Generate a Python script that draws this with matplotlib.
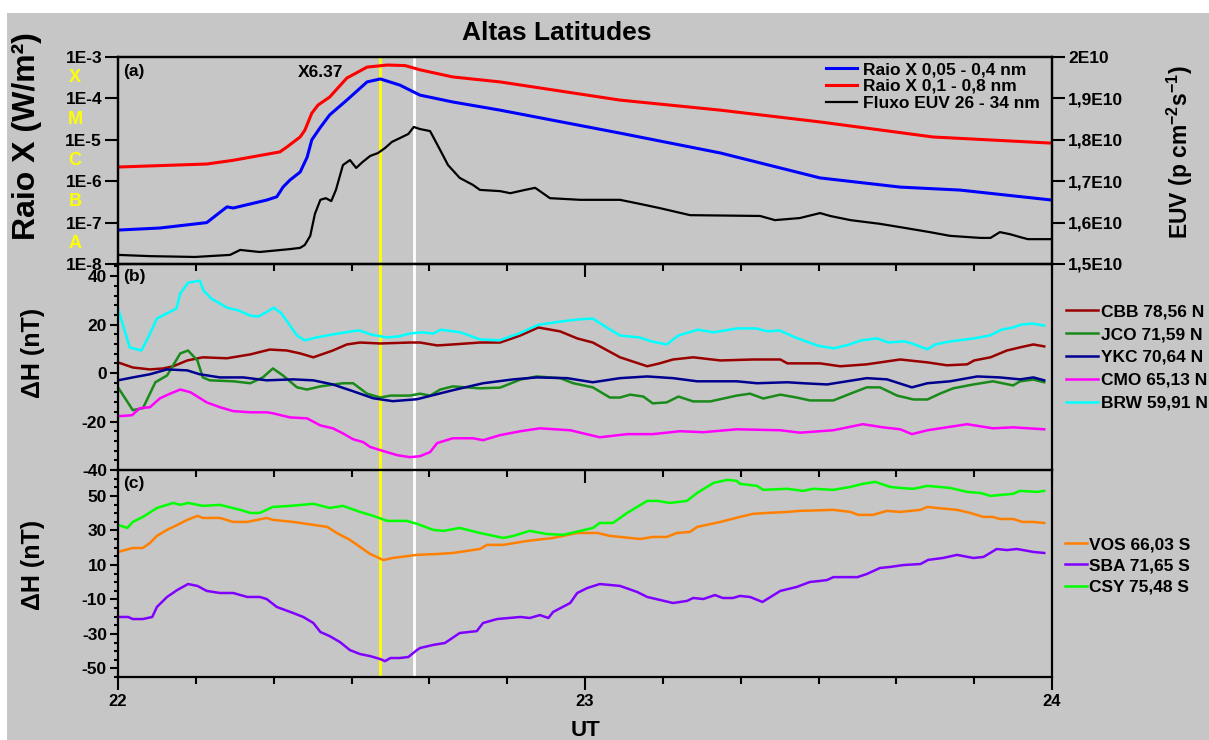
import numpy as np
import matplotlib
matplotlib.use("Agg")
import matplotlib.pyplot as plt
from matplotlib.patches import Rectangle
from matplotlib.ticker import FixedLocator, MultipleLocator, NullLocator, FuncFormatter, AutoMinorLocator

plt.rcParams['font.family'] = ['Liberation Sans', 'DejaVu Sans']
plt.rcParams['font.weight'] = 'bold'
plt.rcParams['mathtext.fontset'] = 'custom'
plt.rcParams['mathtext.rm'] = 'Liberation Sans:bold'
plt.rcParams['mathtext.it'] = 'Liberation Sans:bold'
plt.rcParams['mathtext.bf'] = 'Liberation Sans:bold'
plt.rcParams['axes.unicode_minus'] = False

# ---- data (time in minutes after 22:00 UT) ----
xr_long_t = [0, 11.4, 14.8, 20.8, 21.7, 23.4, 24, 24.9, 25.7, 27.2, 29.4, 32, 34.6, 36.9, 38.8,
             43, 49.1, 64.5, 77.4, 90.2, 104.7, 120]
xr_long = [2.2e-6, 2.6e-6, 3.2e-6, 5.1e-6, 6.7e-6, 1.17e-5, 1.7e-5, 4.4e-5, 6.9e-5, 1.08e-4,
           3.1e-4, 5.7e-4, 6.4e-4, 6.2e-4, 4.9e-4, 3.3e-4, 2.5e-4, 9.1e-5, 5.2e-5, 2.7e-5,
           1.17e-5, 8.3e-6]

xr_short_t = [0, 5.4, 11.4, 14.0, 14.8, 19.1, 20.4, 21.2, 22.1, 23.4, 24.3, 24.9, 26, 27.2,
              29.4, 32, 33.7, 36.2, 38.8, 43, 49.1, 64.5, 77.4, 90.2, 100.5, 108.2, 120]
xr_short = [6.6e-8, 7.4e-8, 1.0e-7, 2.4e-7, 2.25e-7, 3.5e-7, 4.2e-7, 7.2e-7, 1.07e-6, 1.66e-6,
            3.8e-6, 1.0e-5, 2.0e-5, 4.0e-5, 9.1e-5, 2.5e-4, 2.95e-4, 2.1e-4, 1.2e-4, 8.2e-5,
            5.2e-5, 1.45e-5, 4.8e-6, 1.2e-6, 7.2e-7, 6.1e-7, 3.5e-7]

euv_t = [0, 4.1, 9.9, 14.4, 15.7, 18.2, 22.1, 23.4, 24, 24.7, 25.3, 26, 26.7, 27.4, 28, 28.9,
         29.8, 30.6, 31.4, 32.4, 33.4, 34.3, 35.2, 36.2, 37.3, 38, 38.8, 40.1, 41.4, 42.4, 43.9,
         45.6, 46.5, 49.1, 50.4, 52.3, 53.6, 55.5, 59.4, 64.5, 67.1, 69.6, 73.5, 82.5, 84.4,
         87.6, 90.2, 91.5, 94.1, 97.9, 100.5, 104.3, 106.9, 110.8, 112.1, 113.3, 114.6, 115.9,
         116.9, 120]
euv = [1.522, 1.519, 1.517, 1.522, 1.534, 1.529, 1.536, 1.539, 1.546, 1.568, 1.621, 1.655,
       1.659, 1.652, 1.679, 1.739, 1.751, 1.732, 1.746, 1.761, 1.768, 1.780, 1.795, 1.804,
       1.814, 1.831, 1.826, 1.821, 1.775, 1.739, 1.708, 1.691, 1.679, 1.676, 1.671, 1.679,
       1.684, 1.659, 1.655, 1.655, 1.645, 1.635, 1.618, 1.616, 1.606, 1.611, 1.623, 1.616,
       1.606, 1.597, 1.589, 1.577, 1.568, 1.563, 1.563, 1.577, 1.572, 1.565, 1.560, 1.560]

cbb_t = [0, 1.9, 4.1, 5.8, 7.1, 8.9, 10.9, 14, 17, 19.5, 21.7, 23.4, 25.1, 27.6, 29.4, 31.1,
         33.7, 37.5, 38.8, 41, 43, 46.5, 49.1, 51.7, 54, 56.8, 59, 61, 64.5, 68, 69.6, 71.3,
         73.9, 77.4, 81.6, 85.1, 86, 90.2, 92.8, 96.2, 100.5, 104, 106.5, 109.1, 110, 112.1,
         114.2, 115.9, 117.6, 119]
cbb = [4.4, 2.3, 1.5, 1.9, 2.8, 5.2, 6.5, 6.1, 7.7, 9.7, 9.3, 8.1, 6.5, 9.3, 11.8, 12.6,
       12.2, 12.6, 12.6, 11.4, 11.8, 12.6, 12.6, 15.5, 18.8, 17.2, 14.3, 12.6, 6.5, 2.8, 4.0,
       5.6, 6.5, 5.2, 5.6, 5.6, 4.0, 4.0, 2.8, 3.6, 5.6, 4.4, 3.2, 3.6, 5.2, 6.5, 9.3, 10.6,
       11.8, 11.0]

jco_t = [0, 1.9, 3.2, 4.8, 6.3, 8, 9, 10.2, 10.9, 11.8, 14.8, 17, 18.6, 19.9, 21.2, 23, 24.3,
         26, 28.9, 30.2, 32, 33.7, 35, 37.5, 38.8, 40.1, 41.4, 43, 46.5, 49.1, 51.7, 53.8,
         56.8, 58.5, 61, 63.2, 64.5, 65.8, 67.5, 68.7, 70.5, 72, 73.9, 76.1, 79.5, 81.2, 82.9,
         85.1, 87.2, 88.9, 91.9, 94.1, 96.2, 97.9, 100.1, 102.2, 104, 105.6, 107.3, 109.9,
         112.4, 115, 115.9, 117.6, 119]
jco = [-5.9, -15.3, -14.5, -3.8, -1.0, 8.1, 9.3, 5.2, -1.8, -3.0, -3.4, -4.2, -1.8, 1.9,
       -1.0, -5.9, -6.8, -5.5, -4.2, -4.2, -8.5, -10.1, -9.3, -9.3, -8.5, -9.3, -6.8, -5.5,
       -6.3, -6.0, -2.7, -1.4, -2.1, -4.2, -5.9, -10.1, -10.1, -8.9, -9.7, -12.5, -12.1, -9.7,
       -11.7, -11.7, -9.3, -8.5, -10.5, -8.9, -10.1, -11.3, -11.3, -8.5, -5.9, -5.9, -9.3,
       -10.9, -10.9, -8.5, -6.3, -4.7, -3.4, -5.1, -3.4, -2.7, -3.8]

ykc_t = [0, 1.9, 4.1, 6.3, 8.9, 10.5, 13.1, 16.1, 19.1, 22.5, 25.1, 27.6, 30.2, 32.8, 35.3,
         38.4, 43, 46.9, 50.8, 53.8, 57.7, 61, 64.5, 68, 71.3, 74.4, 79.5, 82.1, 86, 88,
         91.1, 96.2, 98.8, 102, 104, 106.9, 110.4, 113.3, 115.9, 117.6, 119]
ykc = [-3.0, -1.8, -0.5, 1.5, 1.1, -0.5, -1.8, -1.8, -3.0, -2.6, -3.0, -4.7, -7.5, -10.4,
       -11.6, -10.8, -7.1, -4.2, -2.6, -1.8, -2.1, -3.8, -2.1, -1.4, -2.1, -3.4, -3.4, -4.2,
       -3.8, -4.2, -4.7, -2.1, -2.6, -5.9, -4.2, -3.4, -1.4, -1.8, -2.6, -1.8, -3.0]

cmo_t = [0, 1.8, 2.8, 4.1, 5.4, 6.7, 8, 9.3, 11.4, 13.1, 14.8, 17, 19.1, 19.9, 22.1, 24.3,
         26, 27.6, 28.9, 30.2, 31.5, 32.4, 34.1, 35.9, 37.5, 38.8, 40.1, 41, 43, 45.6, 46.9,
         49.1, 51.7, 54.2, 58.1, 61.9, 65.4, 68.7, 72.2, 75.2, 79.5, 85.1, 87.6, 91.9, 95.7,
         98.3, 100.5, 102, 104, 109.1, 112.4, 115, 119]
cmo = [-17.8, -17.4, -14.5, -14.1, -10.4, -8.5, -6.8, -7.9, -12.1, -14.1, -15.7, -16.2,
       -16.2, -16.6, -18.3, -18.7, -21.6, -22.8, -24.9, -27.3, -28.5, -30.5, -32.2, -33.9,
       -34.7, -34.3, -32.6, -28.9, -26.9, -26.9, -27.7, -25.6, -24.0, -22.8, -23.6, -26.5,
       -25.2, -25.2, -24.0, -24.4, -23.2, -23.6, -24.6, -23.6, -21.1, -22.4, -23.2, -25.2,
       -23.6, -21.1, -22.8, -22.4, -23.2]

brw_t = [0, 1.5, 3, 4, 5, 6.5, 7.5, 8, 9, 10.5, 11, 12, 14, 15.5, 17, 18, 19, 20, 21, 23,
         24, 25.5, 27.5, 30, 31, 32.5, 34.5, 36, 37.5, 39, 40.5, 41.5, 44, 46.5, 49, 51.5, 54,
         57, 59, 61, 63, 64.5, 67, 68.5, 70.5, 72, 74.5, 76.5, 79.5, 82, 83.5, 85, 87, 90, 92,
         94, 95.5, 97.5, 99, 101, 102, 104, 105, 107, 110, 112, 113.5, 115, 116, 117.5, 119]
brw = [26.6, 10.6, 9.3, 15.5, 22.5, 25.0, 26.6, 32.8, 37.3, 38.1, 34.0, 30.7, 27.0, 25.8,
       23.7, 23.3, 25.0, 27.0, 24.6, 15.5, 13.5, 14.7, 15.9, 17.2, 17.6, 15.9, 14.7, 15.1,
       16.3, 16.8, 16.3, 17.9, 16.8, 13.9, 13.5, 16.3, 19.9, 21.3, 22.1, 22.5, 18.4, 15.5,
       14.7, 13.1, 11.8, 15.5, 17.9, 16.8, 18.4, 18.4, 17.2, 17.6, 14.7, 11.2, 10.2, 11.8,
       13.5, 14.3, 12.6, 13.1, 12.2, 9.8, 11.8, 13.1, 14.3, 15.5, 17.9, 18.8, 20.0, 20.4, 19.6]

vos_t = [0, 1.9, 3.2, 4.1, 5, 6.3, 7.1, 8.9, 10.2, 10.9, 13.1, 14.8, 16.6, 19.1, 19.9, 22.5,
         25.1, 26.9, 28.1, 29.8, 31.1, 32.4, 34.1, 35.3, 38.4, 41, 43, 46.5, 47.4, 49.5, 52.6,
         55.9, 59, 61.6, 63.2, 67.1, 68.7, 70.5, 71.8, 73.5, 74.4, 77.4, 79.9, 81.6, 83.4, 86,
         87.6, 91.9, 94.1, 95.1, 97, 98.8, 100.5, 103.1, 104, 105.2, 107.8, 109.5, 111.2,
         112.4, 113.3, 115, 116.2, 117.6, 119]
vos = [17.5, 19.8, 19.8, 22.7, 26.8, 30.3, 32.0, 36.1, 38.4, 37.2, 37.2, 34.9, 34.9, 37.2,
       36.1, 34.9, 33.2, 32.0, 28.5, 24.5, 20.4, 16.3, 12.8, 14.0, 15.8, 16.3, 16.9, 19.2,
       21.6, 21.6, 23.9, 25.6, 28.5, 28.5, 26.8, 25.0, 26.2, 26.2, 28.5, 29.1, 32.0, 34.9,
       37.8, 39.6, 40.1, 40.7, 41.3, 41.9, 40.7, 39.0, 39.0, 41.3, 40.7, 41.9, 43.6, 43.0,
       41.9, 40.1, 37.8, 37.8, 36.6, 36.6, 34.9, 34.9, 34.3]

sba_t = [0, 1.3, 1.9, 3.2, 4.4, 5, 6.3, 7.6, 9, 10.2, 11.4, 13.1, 14.8, 16.6, 18.2, 19.1,
         20.4, 22.5, 23.8, 25.1, 26, 27.2, 28.5, 29.8, 31.1, 32.4, 33.7, 34.3, 35, 36.2, 37.3,
         38.4, 38.8, 40.5, 42, 43.9, 46.1, 46.9, 48.7, 51.7, 52.9, 54.2, 55.3, 55.9, 58.1, 59,
         60.3, 61.9, 64.5, 66.7, 68, 71.3, 73.1, 73.9, 75.2, 76.7, 77.7, 79, 79.9, 81.2, 82.8,
         85.1, 87.2, 88.9, 90.2, 91.1, 91.9, 95, 96.2, 97.9, 99.2, 100.9, 103.1, 104.1, 106,
         107.8, 109.9, 111.2, 112.9, 114.2, 115.5, 117.6, 119]
sba = [-20.2, -20.2, -21.4, -21.4, -20.2, -14.4, -8.6, -4.6, -1.1, -2.2, -5.1, -6.3, -6.3,
       -8.6, -8.6, -9.8, -14.4, -17.9, -20.2, -23.7, -28.9, -31.3, -34.7, -39.4, -41.7,
       -42.9, -44.6, -45.8, -44.0, -44.0, -43.4, -39.4, -38.2, -36.4, -35.3, -29.5, -28.4,
       -23.7, -21.4, -20.2, -20.8, -19.1, -20.8, -17.3, -12.1, -6.3, -3.4, -1.1, -2.2, -5.7,
       -8.6, -12.1, -10.9, -9.2, -9.8, -7.5, -9.2, -9.2, -8.0, -8.6, -11.5, -5.1, -2.8, 0.1,
       0.7, 1.2, 2.9, 2.9, 4.7, 8.2, 8.8, 9.9, 10.5, 12.9, 14.0, 15.8, 14.0, 14.6, 19.2, 18.6,
       19.2, 17.5, 16.9]

csy_t = [0, 1.2, 1.9, 3.2, 5, 7.1, 8, 9, 10.9, 13.1, 15.7, 17, 18.2, 19.9, 22.1, 25.1, 27.2,
         28.9, 31.1, 32.8, 34.6, 37.1, 38.4, 40.5, 41.8, 43.9, 46.5, 49.5, 50.8, 52.9, 55.1,
         57.2, 59.4, 61, 61.9, 63.6, 65.4, 68, 69.3, 70.9, 73.1, 74.4, 76.5, 78.3, 79.5, 79.9,
         82.1, 82.9, 86, 88, 89.3, 91.9, 94.1, 95.7, 97.3, 99.2, 100.5, 102.2, 104, 106.9,
         109.1, 110.8, 112.1, 115, 115.9, 118.1, 119]
csy = [33.2, 31.4, 34.9, 37.8, 43.0, 45.9, 44.8, 45.9, 44.2, 44.8, 41.9, 40.1, 40.1, 43.6,
       44.2, 45.4, 43.0, 44.2, 40.7, 38.4, 35.5, 35.5, 33.8, 30.3, 29.7, 31.4, 28.5, 25.6,
       26.8, 29.7, 27.9, 27.4, 29.7, 31.4, 34.3, 34.3, 40.1, 47.1, 47.1, 45.9, 47.1, 51.7,
       57.5, 59.3, 58.7, 57.0, 55.8, 53.5, 54.1, 52.9, 54.1, 53.5, 55.2, 57.0, 58.1, 55.2,
       54.6, 54.1, 55.8, 54.6, 52.3, 51.7, 50.0, 51.2, 52.9, 52.3, 52.9]

flare_peak_min = 33.65
white_line_min = 38.0

gray = '#c6c6c6'


def hours(m):
    return 22 + np.asarray(m) / 60.0


fig = plt.figure(figsize=(12.09, 7.40), dpi=100)
fig.patches.append(Rectangle((7 / 1209, 0), 1.0, 1 - 13 / 740, transform=fig.transFigure,
                             facecolor=gray, edgecolor='none', zorder=-10))

left, width = 118 / 1209, 934 / 1209
ax_a = fig.add_axes([left, 1 - 264 / 740, width, 207 / 740])
ax_b = fig.add_axes([left, 1 - 470 / 740, width, 206 / 740])
ax_c = fig.add_axes([left, 1 - 677 / 740, width, 207 / 740])

for ax in (ax_a, ax_b, ax_c):
    ax.set_facecolor('none')
    ax.set_xlim(22, 24)
    ax.xaxis.set_major_locator(MultipleLocator(1))
    ax.xaxis.set_minor_locator(MultipleLocator(1 / 6))
    ax.xaxis.set_major_formatter(FuncFormatter(lambda v, _: '%d' % round(v)))
    ax.tick_params(axis='x', which='major', direction='out', length=9, width=1.5,
                   labelsize=12, pad=3)
    ax.tick_params(axis='x', which='minor', direction='out', length=5, width=1.5)
    for s in ax.spines.values():
        s.set_linewidth(1.6)
    ax.axvline(hours(flare_peak_min), color='#ffff00', lw=2, zorder=1)
    ax.axvline(hours(white_line_min), color='white', lw=2, zorder=1)

ax_a.tick_params(axis='x', labelbottom=False)
ax_b.tick_params(axis='x', labelbottom=False)

# ---- panel (a) ----
ax_a.set_yscale('log')
ax_a.set_ylim(1e-8, 1e-3)
ax_a.yaxis.set_major_locator(FixedLocator([1e-8, 1e-7, 1e-6, 1e-5, 1e-4, 1e-3]))
ax_a.yaxis.set_minor_locator(NullLocator())
ax_a.yaxis.set_major_formatter(FuncFormatter(lambda v, _: '1E%d' % round(np.log10(v))))
ax_a.tick_params(axis='y', direction='out', length=9.5, width=1.5, labelsize=12.5, pad=2)
l1, = ax_a.plot(hours(xr_short_t), xr_short, color='#0000ff', lw=2.2, label='Raio X 0,05 - 0,4 nm')
l2, = ax_a.plot(hours(xr_long_t), xr_long, color='#ff0000', lw=2.2, label='Raio X 0,1 - 0,8 nm')
ax_a.set_ylabel('Raio X (W/m²)', fontsize=23, fontweight='bold')
ax_a.yaxis.set_label_coords(-0.081, 0.62)

for letter, lo in zip(['A', 'B', 'C', 'M', 'X'], [-8, -7, -6, -5, -4]):
    ax_a.text(-0.046, 10 ** (lo + 0.5), letter, color='#ffff00', fontsize=13,
              fontweight='bold', ha='center', va='center',
              transform=ax_a.get_yaxis_transform())

ax_e = ax_a.twinx()
ax_e.set_facecolor('none')
ax_e.set_ylim(1.5e10, 2.0e10)
ax_e.yaxis.set_major_locator(FixedLocator([1.5e10, 1.6e10, 1.7e10, 1.8e10, 1.9e10, 2.0e10]))
ax_e.yaxis.set_major_formatter(FuncFormatter(
    lambda v, _: '2E10' if abs(v - 2e10) < 1e6 else ('%.1fE10' % (v / 1e10)).replace('.', ',')))
ax_e.tick_params(axis='y', direction='out', length=9.5, width=1.5, labelsize=12.5, pad=2)
for s in ax_e.spines.values():
    s.set_linewidth(1.6)
l3, = ax_e.plot(hours(euv_t), np.array(euv) * 1e10, color='black', lw=1.6,
                label='Fluxo EUV 26 - 34 nm')
ax_e.set_ylabel('EUV (p cm$^{-2}$s$^{-1}$)', fontsize=16.5, fontweight='bold')
ax_e.yaxis.set_label_coords(1.121, 0.54)

ax_e.legend(handles=[l1, l2, l3], loc='upper right', bbox_to_anchor=(1.0, 1.035),
            frameon=False, fontsize=12.5, handlelength=1.8, handletextpad=0.35,
            labelspacing=0.1, borderaxespad=0.3)
ax_a.text(0.005, 0.93, '(a)', transform=ax_a.transAxes, fontsize=12.5, va='center')
ax_a.text(hours(26), 4.3e-4, 'X6.37', fontsize=12.5, ha='center', va='center')

# ---- panel (b) ----
ax_b.plot(hours(cbb_t), cbb, color='#990000', lw=1.8, label='CBB 78,56 N')
ax_b.plot(hours(jco_t), jco, color='#1a8a1a', lw=1.8, label='JCO 71,59 N')
ax_b.plot(hours(ykc_t), ykc, color='#000090', lw=1.8, label='YKC 70,64 N')
ax_b.plot(hours(cmo_t), cmo, color='#ff00ff', lw=1.8, label='CMO 65,13 N')
ax_b.plot(hours(brw_t), brw, color='#00ffff', lw=1.8, label='BRW 59,91 N')
ax_b.set_ylim(-40, 45)
ax_b.yaxis.set_major_locator(MultipleLocator(20))
ax_b.yaxis.set_minor_locator(AutoMinorLocator(5))
ax_b.tick_params(axis='y', which='major', direction='out', length=6, width=1.5, labelsize=12.5, pad=2)
ax_b.tick_params(axis='y', which='minor', direction='out', length=3, width=1.5)
ax_b.set_ylabel('ΔH (nT)', fontsize=18, fontweight='bold')
ax_b.yaxis.set_label_coords(-0.078, 0.57)
ax_b.legend(loc='upper left', bbox_to_anchor=(1.008, 0.84), frameon=False, fontsize=12.5,
            handlelength=1.8, handletextpad=0.2, labelspacing=0.45, borderaxespad=0)
ax_b.text(0.005, 0.937, '(b)', transform=ax_b.transAxes, fontsize=12.5, va='center')

# ---- panel (c) ----
ax_c.plot(hours(vos_t), vos, color='#ff8000', lw=1.8, label='VOS 66,03 S')
ax_c.plot(hours(sba_t), sba, color='#8000ff', lw=1.8, label='SBA 71,65 S')
ax_c.plot(hours(csy_t), csy, color='#00ff00', lw=1.8, label='CSY 75,48 S')
ax_c.set_ylim(-55, 65)
ax_c.yaxis.set_major_locator(FixedLocator([-50, -30, -10, 10, 30, 50]))
ax_c.yaxis.set_minor_locator(MultipleLocator(5))
ax_c.tick_params(axis='y', which='major', direction='out', length=6, width=1.5, labelsize=12.5, pad=2)
ax_c.tick_params(axis='y', which='minor', direction='out', length=3, width=1.5)
ax_c.set_ylabel('ΔH (nT)', fontsize=18, fontweight='bold')
ax_c.yaxis.set_label_coords(-0.078, 0.54)
ax_c.legend(loc='upper left', bbox_to_anchor=(1.006, 0.71), frameon=False, fontsize=12.5,
            handlelength=1.3, handletextpad=0.1, labelspacing=0.35, borderaxespad=0)
ax_c.text(0.005, 0.937, '(c)', transform=ax_c.transAxes, fontsize=12.5, va='center')
ax_c.set_xlabel('UT', fontsize=16, fontweight='bold', labelpad=8)

fig.text(557 / 1209, 1 - 33 / 740, 'Altas Latitudes', ha='center', va='center',
         fontsize=19, fontweight='bold')

fig.savefig('out.png', dpi=100, facecolor='white')
